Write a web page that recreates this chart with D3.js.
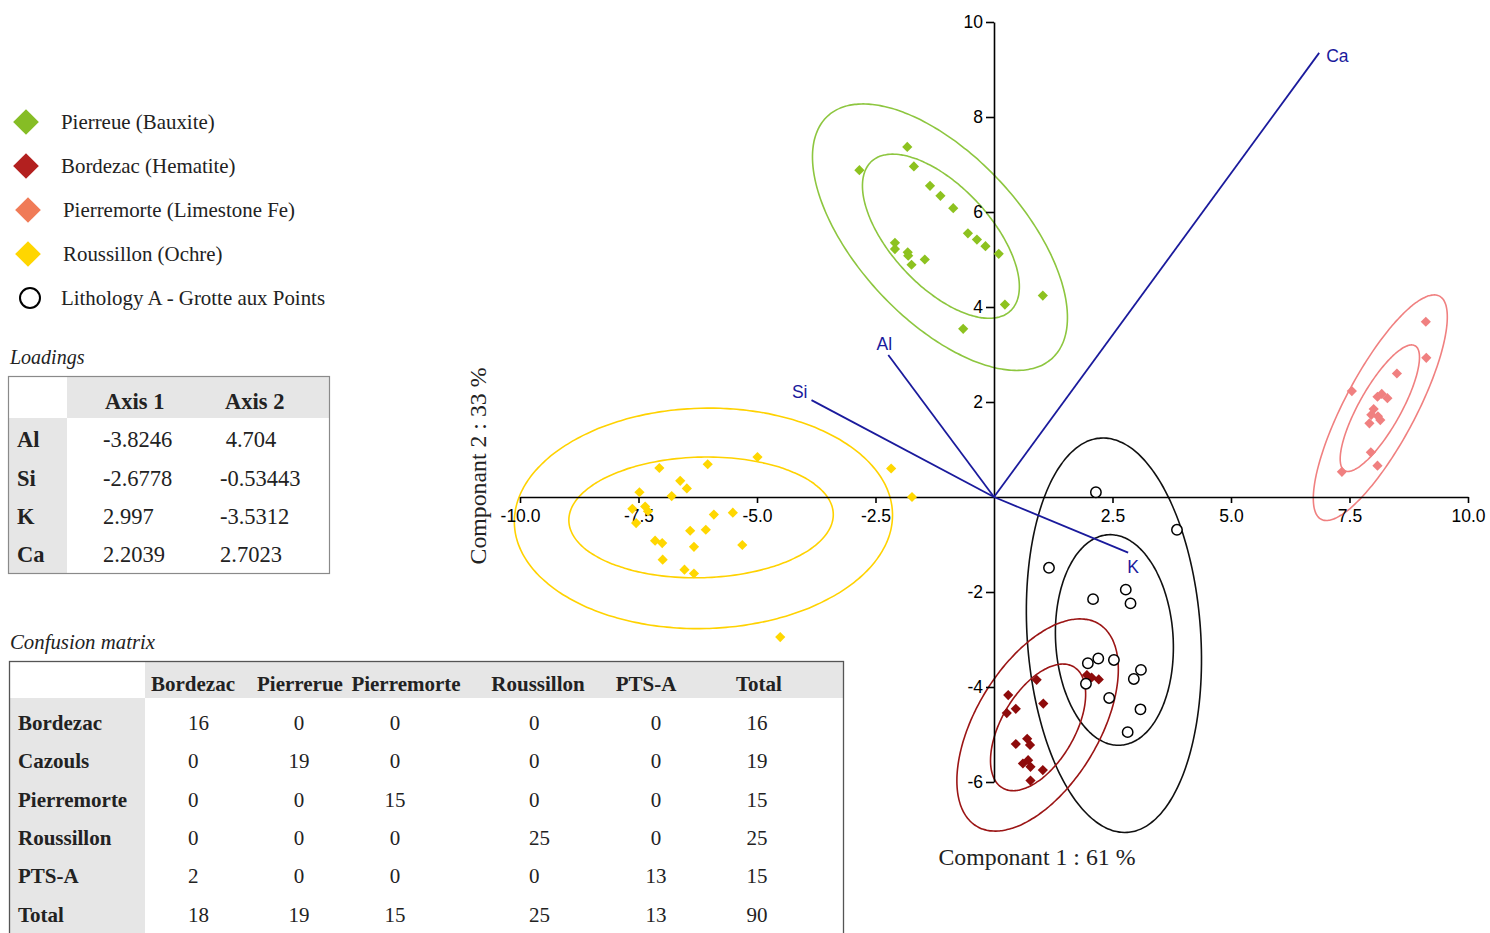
<!DOCTYPE html>
<html>
<head>
<meta charset="utf-8">
<script src="https://cdn.jsdelivr.net/npm/d3@7"></script>
<style>
  html, body { margin: 0; padding: 0; background: #fff; }
  svg { display: block; }
  .serif { font-family: "Liberation Serif", "Times New Roman", serif; fill: #222; }
  .sans { font-family: "Liberation Sans", Arial, sans-serif; }
</style>
</head>
<body>
<svg id="chart" width="1490" height="933"></svg>
<script>
// ---------- PCA scores (Componant 1, Componant 2) ----------
const pierrerue = [
  [-1.83, 7.37], [-2.84, 6.88], [-1.69, 6.96], [-1.35, 6.55], [-1.13, 6.34],
  [-0.86, 6.08], [-0.55, 5.55], [-0.36, 5.42], [-0.18, 5.28], [0.10, 5.12],
  [-2.09, 5.35], [-2.09, 5.22], [-1.82, 5.15], [-1.81, 5.08], [-1.74, 4.89],
  [-1.46, 5.00], [0.23, 4.05], [1.03, 4.24], [-0.65, 3.54]
];
const bordezac = [
  [0.30, -4.17], [0.46, -4.46], [0.27, -4.55], [0.90, -3.85], [1.04, -4.35],
  [0.46, -5.20], [0.70, -5.09], [0.76, -5.22], [0.61, -5.61], [0.72, -5.54],
  [0.77, -5.68], [1.03, -5.75], [0.77, -5.97], [1.96, -3.75], [2.06, -3.80],
  [2.21, -3.84]
];
const pierremorte = [
  [9.11, 3.69], [9.12, 2.93], [8.50, 2.60], [7.55, 2.23], [8.09, 2.11],
  [8.30, 2.08], [8.18, 2.17], [8.01, 1.85], [7.96, 1.73], [8.10, 1.70],
  [8.15, 1.62], [7.92, 1.55], [7.95, 0.94], [8.09, 0.66], [7.34, 0.53]
];
const roussillon = [
  [-4.99, 0.84], [-6.04, 0.69], [-7.06, 0.61], [-6.62, 0.34], [-6.48, 0.18],
  [-7.48, 0.10], [-6.80, 0.02], [-7.63, -0.25], [-7.36, -0.20], [-7.30, -0.30],
  [-7.55, -0.55], [-5.91, -0.37], [-5.51, -0.33], [-6.41, -0.71], [-6.08, -0.69],
  [-7.15, -0.92], [-7.00, -0.97], [-6.33, -1.05], [-5.31, -1.01], [-6.99, -1.32],
  [-6.53, -1.53], [-6.33, -1.61], [-2.17, 0.60], [-1.73, 0.00], [-4.51, -2.95]
];
const lithologyA = [
  [2.15, 0.10], [3.86, -0.69], [1.16, -1.49], [2.09, -2.15], [2.78, -1.95],
  [2.88, -2.24], [1.98, -3.50], [2.20, -3.40], [2.53, -3.43], [1.94, -3.93],
  [3.10, -3.64], [2.95, -3.83], [2.43, -4.23], [3.09, -4.47], [2.82, -4.95]
];

// ---------- confidence ellipses: [centre x, centre y, semi-major, semi-minor, angle deg] ----------
const pierrerueEllipses   = [[-1.12, 5.49, 2.15, 1.05, -47], [-1.14, 5.47, 3.48, 1.73, -47]];
const bordezacEllipses    = [[0.93, -4.85, 1.48, 0.77, 59.4], [0.92, -4.80, 2.49, 1.30, 58.8]];
const pierremorteEllipses = [[8.14, 1.87, 1.51, 0.44, 60.5], [8.15, 1.88, 2.66, 0.75, 62]];
const roussillonEllipses  = [[-6.18, -0.43, 2.79, 1.27, 1.5], [-6.13, -0.45, 3.99, 2.32, 1.5]];
const lithologyEllipses   = [[2.54, -3.01, 2.22, 1.24, -86.7], [2.53, -2.91, 4.16, 1.83, -86.1]];

// ---------- biplot variable vectors ----------
const vectorNames = ["Al", "Si", "K", "Ca"];
const vectorX = [-2.23, -3.85, 2.83, 6.86];
const vectorY = [2.99, 2.04, -1.17, 9.35];

// ---------- axis ticks ----------
const xTicks = [-10, -7.5, -5, -2.5, 2.5, 5, 7.5, 10];
const yTicks = [-6, -4, -2, 2, 4, 6, 8, 10];

// ---------- legend ----------
const legendLabels = ["Pierreue (Bauxite)", "Bordezac (Hematite)", "Pierremorte (Limestone Fe)",
                      "Roussillon (Ochre)", "Lithology A - Grotte aux Points"];

// ---------- loadings table ----------
const loadingHeaders = ["Axis 1", "Axis 2"];
const loadingVars = ["Al", "Si", "K", "Ca"];
const loadingAxis1 = ["-3.8246", "-2.6778", "2.997", "2.2039"];
const loadingAxis2 = [" 4.704", "-0.53443", "-3.5312", "2.7023"];

// ---------- confusion matrix ----------
const cmColumns = ["Bordezac", "Pierrerue", "Pierremorte", "Roussillon", "PTS-A", "Total"];
const cmRows = ["Bordezac", "Cazouls", "Pierremorte", "Roussillon", "PTS-A", "Total"];
const cmValues = [
  [16, 0, 0, 0, 0, 16],
  [0, 19, 0, 0, 0, 19],
  [0, 0, 15, 0, 0, 15],
  [0, 0, 0, 25, 0, 25],
  [2, 0, 0, 0, 13, 15],
  [18, 19, 15, 25, 13, 90]
];

// =====================================================================
const svg = d3.select("#chart");
svg.append("rect").attr("width", 1490).attr("height", 933).attr("fill", "#fff");

const x = d3.scaleLinear().domain([-10, 10]).range([520, 1468]);
const y = d3.scaleLinear().domain([-6, 10]).range([782, 22]);

// tick numbers use a plain hyphen for the minus sign
const locale = d3.formatLocale({ decimal: ".", thousands: ",", grouping: [3], currency: ["", ""], minus: "-" });

const plot = svg.append("g");

// ellipses
function ellipsePath(e) {
  const [cx, cy, a, b, ang] = e;
  const th = ang * Math.PI / 180;
  const pts = d3.range(0, 360, 2).map(deg => {
    const t = deg * Math.PI / 180;
    const ex = a * Math.cos(t), ey = b * Math.sin(t);
    return [cx + ex * Math.cos(th) - ey * Math.sin(th), cy + ex * Math.sin(th) + ey * Math.cos(th)];
  });
  return d3.line().x(d => x(d[0])).y(d => y(d[1])).curve(d3.curveCardinalClosed)(pts);
}
const ellipseGroups = [
  { list: pierrerueEllipses, color: "#8dc63f" },
  { list: roussillonEllipses, color: "#ffd200" },
  { list: lithologyEllipses, color: "#111" },
  { list: bordezacEllipses, color: "#9b1515" },
  { list: pierremorteEllipses, color: "#f08080" }
];
ellipseGroups.forEach(g => {
  plot.append("g").selectAll("path").data(g.list).join("path")
    .attr("d", ellipsePath)
    .attr("fill", "none")
    .attr("stroke", g.color)
    .attr("stroke-width", 1.6);
});

// axes through the origin
const xAxis = d3.axisBottom(x).tickValues(xTicks).tickFormat(locale.format(".1f"))
  .tickSizeInner(6).tickSizeOuter(0).tickPadding(7);
const yAxis = d3.axisLeft(y).tickValues(yTicks).tickFormat(locale.format("d"))
  .tickSizeInner(8).tickSizeOuter(0).tickPadding(3);

const gx = plot.append("g").attr("transform", `translate(0,${y(0)})`).call(xAxis);
const gy = plot.append("g").attr("transform", `translate(${x(0)},0)`).call(yAxis);
[gx, gy].forEach(g => {
  g.select(".domain").attr("stroke", "#000").attr("stroke-width", 1.6);
  g.selectAll(".tick line").attr("stroke", "#000").attr("stroke-width", 1.6);
  g.selectAll(".tick text").attr("fill", "#000")
    .style("font-family", '"Liberation Sans", Arial, sans-serif').style("font-size", "17.5px");
});

// variable vectors
const vecColor = "#1a1a9c";
const vecData = vectorNames.map((n, i) => ({ name: n, vx: vectorX[i], vy: vectorY[i] }));
plot.append("g").selectAll("line").data(vecData).join("line")
  .attr("x1", x(0)).attr("y1", y(0))
  .attr("x2", d => x(d.vx)).attr("y2", d => y(d.vy))
  .attr("stroke", vecColor).attr("stroke-width", 1.8);
const vecLabelOffset = { Al: [-4, -5, "middle"], Si: [-4, -2, "end"], K: [-1, 20, "start"], Ca: [7, 9, "start"] };
plot.append("g").selectAll("text").data(vecData).join("text")
  .attr("class", "sans")
  .attr("x", d => x(d.vx) + vecLabelOffset[d.name][0])
  .attr("y", d => y(d.vy) + vecLabelOffset[d.name][1])
  .attr("text-anchor", d => vecLabelOffset[d.name][2])
  .attr("fill", vecColor).style("font-size", "17.5px")
  .text(d => d.name);

// points
const diamond = (area) => d3.symbol(d3.symbolSquare, area)();
function drawDiamonds(data, color) {
  plot.append("g").selectAll("path").data(data).join("path")
    .attr("d", diamond(52))
    .attr("transform", d => `translate(${x(d[0])},${y(d[1])}) rotate(45)`)
    .attr("fill", color);
}
drawDiamonds(pierrerue, "#8dc21f");
drawDiamonds(roussillon, "#ffd700");
drawDiamonds(bordezac, "#8e0b0b");
drawDiamonds(pierremorte, "#f08080");
plot.append("g").selectAll("circle").data(lithologyA).join("circle")
  .attr("cx", d => x(d[0])).attr("cy", d => y(d[1])).attr("r", 5.2)
  .attr("fill", "#fff").attr("stroke", "#000").attr("stroke-width", 1.5);

// axis titles
svg.append("text").attr("class", "serif")
  .attr("x", 1037).attr("y", 865).attr("text-anchor", "middle")
  .style("font-size", "23.8px").text("Componant 1 : 61 %");
svg.append("text").attr("class", "serif")
  .attr("transform", "translate(486,466) rotate(-90)").attr("text-anchor", "middle")
  .style("font-size", "23.8px").text("Componant 2 : 33 %");

// legend
const legendColors = ["#86bd25", "#b3201f", "#f07b57", "#ffd600", null];
const legendY = [122, 166, 210, 254, 298];
const legendSymX = [26, 26, 28, 28, 30];
const legendTextX = [61, 61, 63, 63, 61];
const legend = svg.append("g");
legendLabels.forEach((lab, i) => {
  if (legendColors[i]) {
    legend.append("path").attr("d", diamond(330))
      .attr("transform", `translate(${legendSymX[i]},${legendY[i]}) rotate(45)`)
      .attr("fill", legendColors[i]);
  } else {
    legend.append("circle").attr("cx", legendSymX[i]).attr("cy", legendY[i]).attr("r", 10)
      .attr("fill", "#fff").attr("stroke", "#000").attr("stroke-width", 2);
  }
  legend.append("text").attr("class", "serif")
    .attr("x", legendTextX[i]).attr("y", legendY[i] + 7)
    .style("font-size", "20.9px").text(lab);
});

// loadings table
const lt = svg.append("g");
lt.append("text").attr("class", "serif").attr("x", 10).attr("y", 364)
  .style("font-size", "20px").style("font-style", "italic").text("Loadings");
lt.append("rect").attr("x", 67).attr("y", 377).attr("width", 262).attr("height", 41).attr("fill", "#e6e6e6");
lt.append("rect").attr("x", 9).attr("y", 418).attr("width", 58).attr("height", 155).attr("fill", "#e6e6e6");
lt.append("rect").attr("x", 8.5).attr("y", 376.5).attr("width", 321).attr("height", 197)
  .attr("fill", "none").attr("stroke", "#8a8a8a").attr("stroke-width", 1.2);
const ltColX = [105, 225];
loadingHeaders.forEach((h, i) => {
  lt.append("text").attr("class", "serif").attr("x", ltColX[i]).attr("y", 409)
    .style("font-size", "22.5px").style("font-weight", "bold").text(h);
});
const ltRowY = [447, 485.5, 524, 561.5];
loadingVars.forEach((v, i) => {
  lt.append("text").attr("class", "serif").attr("x", 17).attr("y", ltRowY[i])
    .style("font-size", "22.5px").style("font-weight", "bold").text(v);
  lt.append("text").attr("class", "serif").attr("x", 103).attr("y", ltRowY[i])
    .style("font-size", "22.5px").text(loadingAxis1[i]);
  lt.append("text").attr("class", "serif").attr("x", 220).attr("y", ltRowY[i])
    .style("font-size", "22.5px").style("white-space", "pre").text(loadingAxis2[i]);
});

// confusion matrix
const cm = svg.append("g");
cm.append("text").attr("class", "serif").attr("x", 10).attr("y", 649)
  .style("font-size", "20.8px").style("font-style", "italic").text("Confusion matrix");
cm.append("rect").attr("x", 145).attr("y", 662).attr("width", 698).attr("height", 36).attr("fill", "#e6e6e6");
cm.append("rect").attr("x", 10).attr("y", 698).attr("width", 135).attr("height", 240).attr("fill", "#e6e6e6");
cm.append("rect").attr("x", 9.5).attr("y", 661.5).attr("width", 834).attr("height", 290)
  .attr("fill", "none").attr("stroke", "#555").attr("stroke-width", 1.3);
const cmHeadX = [193, 300, 406, 538, 646, 759];
cmColumns.forEach((c, i) => {
  cm.append("text").attr("class", "serif").attr("x", cmHeadX[i]).attr("y", 690.5)
    .attr("text-anchor", "middle").style("font-size", "21px").style("font-weight", "bold").text(c);
});
const cmRowY = [729.5, 768, 806.5, 844.5, 883, 921.5];
const cmValX = [188, 299, 395, 529, 656, 757];
const cmValAnchor = ["start", "middle", "middle", "start", "middle", "middle"];
cmRows.forEach((r, i) => {
  cm.append("text").attr("class", "serif").attr("x", 18).attr("y", cmRowY[i])
    .style("font-size", "21px").style("font-weight", "bold").text(r);
  cmValues[i].forEach((v, j) => {
    cm.append("text").attr("class", "serif").attr("x", cmValX[j]).attr("y", cmRowY[i])
      .attr("text-anchor", cmValAnchor[j]).style("font-size", "21px").text(v);
  });
});
</script>
</body>
</html>
